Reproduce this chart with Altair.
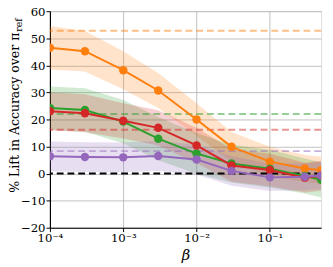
import altair as alt
import pandas as pd

beta = [1e-4, 3e-4, 1e-3, 3e-3, 1e-2, 3e-2, 1e-1, 3e-1, 5e-1]
series_names = ["orange", "green", "red", "purple"]
colors = ["#ff7f0e", "#2ca02c", "#d62728", "#9467bd"]
means = {
    "orange": [46.5, 45.2, 38.2, 30.7, 20.0, 9.9, 4.4, 1.9, 1.2],
    "green": [24.2, 23.5, 19.2, 12.9, 7.4, 3.7, 1.8, -0.9, -2.3],
    "red": [23.0, 22.3, 19.5, 16.9, 10.4, 3.0, 1.3, -1.5, -0.8],
    "purple": [6.4, 6.1, 6.0, 6.5, 5.2, 1.0, -1.4, -1.2, -0.7],
}
sds = {
    "orange": [8.0, 7.5, 7.0, 6.5, 6.0, 5.5, 5.5, 5.0, 5.0],
    "green": [8.0, 8.0, 8.0, 8.0, 7.5, 7.0, 7.0, 6.5, 6.5],
    "red": [7.0, 7.0, 6.5, 6.5, 6.5, 6.0, 6.0, 5.5, 5.5],
    "purple": [5.5, 5.5, 5.5, 5.5, 5.5, 5.5, 5.0, 5.0, 5.0],
}
ref_levels = [52.8, 22.0, 16.2, 8.3]
y_ticks = [-20, -10, 0, 10, 20, 30, 40, 50, 60]
x_ticks = [1e-4, 1e-3, 1e-2, 1e-1]

FONT = "DejaVu Serif"
xscale = alt.Scale(type="log", domain=[1e-4, 0.5], nice=False)
yscale = alt.Scale(domain=[-20, 60], nice=False)

xaxis = alt.Axis(
    values=x_ticks,
    labelExpr="'10' + (datum.value < 0.0005 ? '⁻⁴' : datum.value < 0.005 ? '⁻³' : datum.value < 0.05 ? '⁻²' : '⁻¹')",
    labelFont=FONT, labelFontSize=12, labelColor="black", labelFlush=False, labelOverlap=False,
    title="β", titleFont=FONT, titleFontSize=15, titleFontStyle="italic", titleFontWeight="normal",
    titleColor="black", titlePadding=5,
    domainColor="black", domainWidth=1.2, tickColor="black", tickSize=4, labelPadding=1,
    grid=True, gridColor="#b0b0b0", gridWidth=0.8,
)
yaxis = alt.Axis(
    values=y_ticks,
    labelFont=FONT, labelFontSize=12, labelColor="black", labelFlush=False, labelOverlap=False,
    title="", domainColor="black", domainWidth=1.2, tickColor="black", tickSize=4, labelPadding=1,
    grid=True, gridColor="#b0b0b0", gridWidth=0.8,
)

rows = []
for s in series_names:
    for b, m, sd in zip(beta, means[s], sds[s]):
        rows.append({"series": s, "beta": b, "mean": m, "lo": m - sd, "hi": m + sd})
df = pd.DataFrame(rows)

X = lambda f: alt.X(f, scale=xscale, axis=xaxis)
Y = lambda f: alt.Y(f, scale=yscale, axis=yaxis)

layers = []
# bands
for s, c in zip(series_names, colors):
    d = df[df.series == s]
    layers.append(
        alt.Chart(d).mark_area(color=c, opacity=0.22, clip=True).encode(
            x=X("beta:Q"), y=Y("lo:Q"), y2="hi:Q",
        )
    )
# dashed reference lines
ref_df = pd.DataFrame({"series": series_names, "level": ref_levels})
for s, c in zip(series_names, colors):
    layers.append(
        alt.Chart(ref_df[ref_df.series == s]).mark_rule(
            color=c, opacity=0.5, strokeDash=[7, 4], strokeWidth=2
        ).encode(y=Y("level:Q"))
    )
zero_df = pd.DataFrame({"level": [0]})
layers.append(
    alt.Chart(zero_df).mark_rule(color="black", strokeDash=[7, 4], strokeWidth=2).encode(
        y=Y("level:Q")
    )
)
# lines + points
for s, c in zip(series_names, colors):
    d = df[df.series == s]
    base = alt.Chart(d).encode(x=X("beta:Q"), y=Y("mean:Q"))
    layers.append(base.mark_line(color=c, strokeWidth=2, clip=True))
    layers.append(base.mark_circle(color=c, size=75, opacity=1, clip=True))

# y title with subscript
title_df = pd.DataFrame({"t": ["% Lift in Accuracy over π"]})
sub_df = pd.DataFrame({"t": ["ref"]})
layers.append(
    alt.Chart(title_df).mark_text(
        angle=270, align="right", baseline="alphabetic", font=FONT, fontSize=12.8, color="black"
    ).encode(text="t:N", x=alt.value(-32), y=alt.value(22))
)
layers.append(
    alt.Chart(sub_df).mark_text(
        angle=270, align="left", baseline="alphabetic", font=FONT, fontSize=9.5, color="black"
    ).encode(text="t:N", x=alt.value(-28.5), y=alt.value(21))
)

chart = alt.layer(*layers).properties(
    width=278, height=222,
    autosize=alt.AutoSizeParams(type="none"),
    padding={"left": 43, "top": 0, "right": 4, "bottom": 37},
).configure_view(stroke="#808080", strokeWidth=1.5).configure(background="white")

chart.save("out.html", embed_options={"renderer": "svg", "actions": False})
